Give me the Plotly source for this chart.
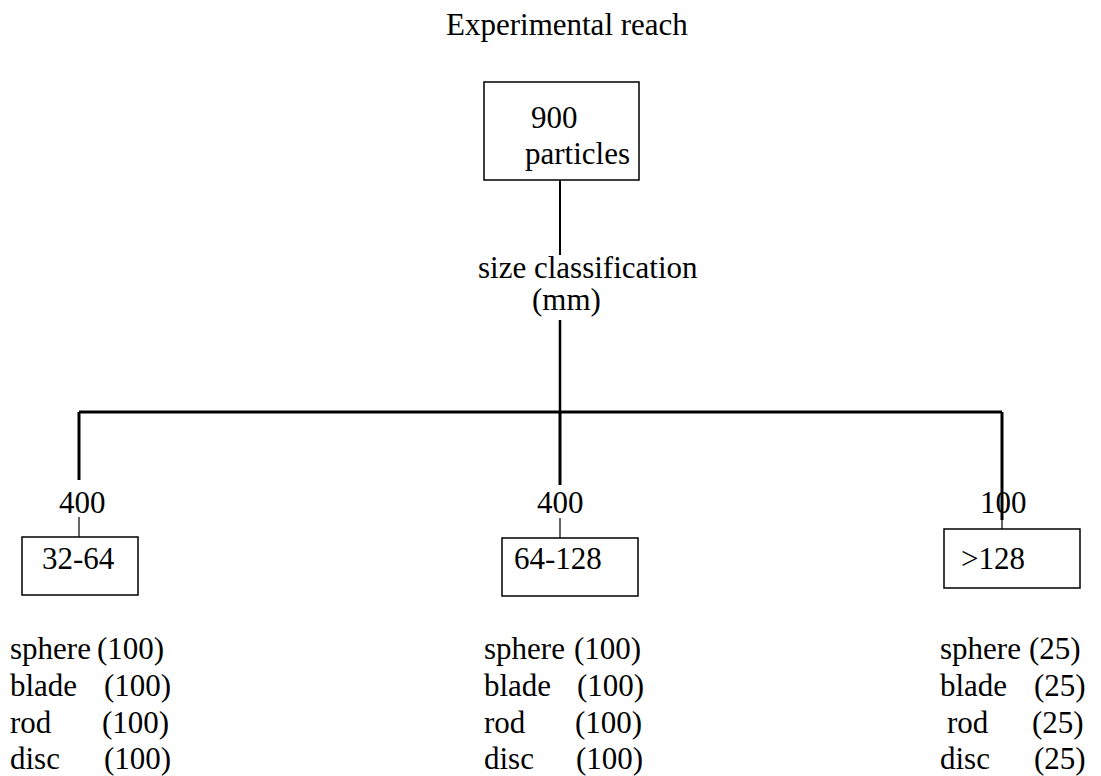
import plotly.graph_objects as go

title_text = "Experimental reach"
total_particles = 900
classification_label = ["size classification", "(mm)"]
size_classes = ["32-64", "64-128", ">128"]
class_counts = [400, 400, 100]
shape_names = ["sphere", "blade", "rod", "disc"]
shape_counts_32_64 = [100, 100, 100, 100]
shape_counts_64_128 = [100, 100, 100, 100]
shape_counts_gt128 = [25, 25, 25, 25]
shape_counts = [shape_counts_32_64, shape_counts_64_128, shape_counts_gt128]

W, H = 1101, 776
FONT = "Liberation Serif, Times New Roman, serif"
FS = 31
BLACK = "#000"

fig = go.Figure()
fig.add_trace(go.Scatter(x=[0, W], y=[0, H], mode="markers",
                         marker=dict(opacity=0), hoverinfo="skip", showlegend=False))

shapes = []
ann = []

def text(x, y, s, xanchor="center", size=FS):
    ann.append(dict(x=x, y=y, text=s, showarrow=False, xanchor=xanchor, yanchor="middle",
                    font=dict(family=FONT, size=size, color=BLACK), xref="x", yref="y"))

def line(x0, y0, x1, y1, w=2.5):
    shapes.append(dict(type="line", x0=x0, y0=y0, x1=x1, y1=y1, xref="x", yref="y",
                       line=dict(color=BLACK, width=w)))

def rect(x0, y0, x1, y1, w=1.5):
    shapes.append(dict(type="rect", x0=x0, y0=y0, x1=x1, y1=y1, xref="x", yref="y",
                       line=dict(color=BLACK, width=w), fillcolor="rgba(0,0,0,0)"))

# Title
text(567, 24, title_text)

# Top box
rect(484, 82, 639, 180)
text(554, 117, str(total_particles))
text(577, 153, "particles")
line(560, 180, 560, 255, 2)
text(588, 267, classification_label[0])
text(566, 299, classification_label[1])
line(560, 320, 560, 412, 2.5)

# Horizontal bar
branch_x = [79, 560, 1002]
line(branch_x[0], 412, branch_x[-1], 412, 3)

drop_end = [480, 485, 520]
count_x = [82, 560, 1003]
box_x = [(22, 138), (502, 638), (944, 1080)]
box_y = [(537, 595), (538, 596), (529, 588)]
label_x = [78, 558, 993]
tick_y = [(517, 537), (518, 538), (505, 529)]

for i in range(3):
    line(branch_x[i], 412, branch_x[i], drop_end[i], 3)
    text(count_x[i], 502, str(class_counts[i]))
    line(branch_x[i], tick_y[i][0], branch_x[i], tick_y[i][1], 1.2)
    rect(box_x[i][0], box_y[i][0], box_x[i][1], box_y[i][1])
    text(label_x[i], 558, size_classes[i])

name_x = [[8, 8, 8, 8], [482, 482, 482, 482], [938, 938, 945, 938]]
num_x = [[95, 102, 100, 102], [572, 575, 573, 574], [1027, 1032, 1030, 1032]]
row_y = [648, 685, 722, 758]
for i in range(3):
    for j, nm in enumerate(shape_names):
        text(name_x[i][j], row_y[j], nm, xanchor="left")
        text(num_x[i][j], row_y[j], "(%d)" % shape_counts[i][j], xanchor="left")

fig.update_layout(
    width=W, height=H, margin=dict(l=0, r=0, t=0, b=0),
    paper_bgcolor="white", plot_bgcolor="white",
    xaxis=dict(range=[0, W], visible=False, fixedrange=True),
    yaxis=dict(range=[H, 0], visible=False, fixedrange=True),
    shapes=shapes, annotations=ann, showlegend=False,
)
fig.write_html("out.html", config={"displayModeBar": False},
               post_script="document.body.style.margin='0';document.body.style.overflow='hidden';")
